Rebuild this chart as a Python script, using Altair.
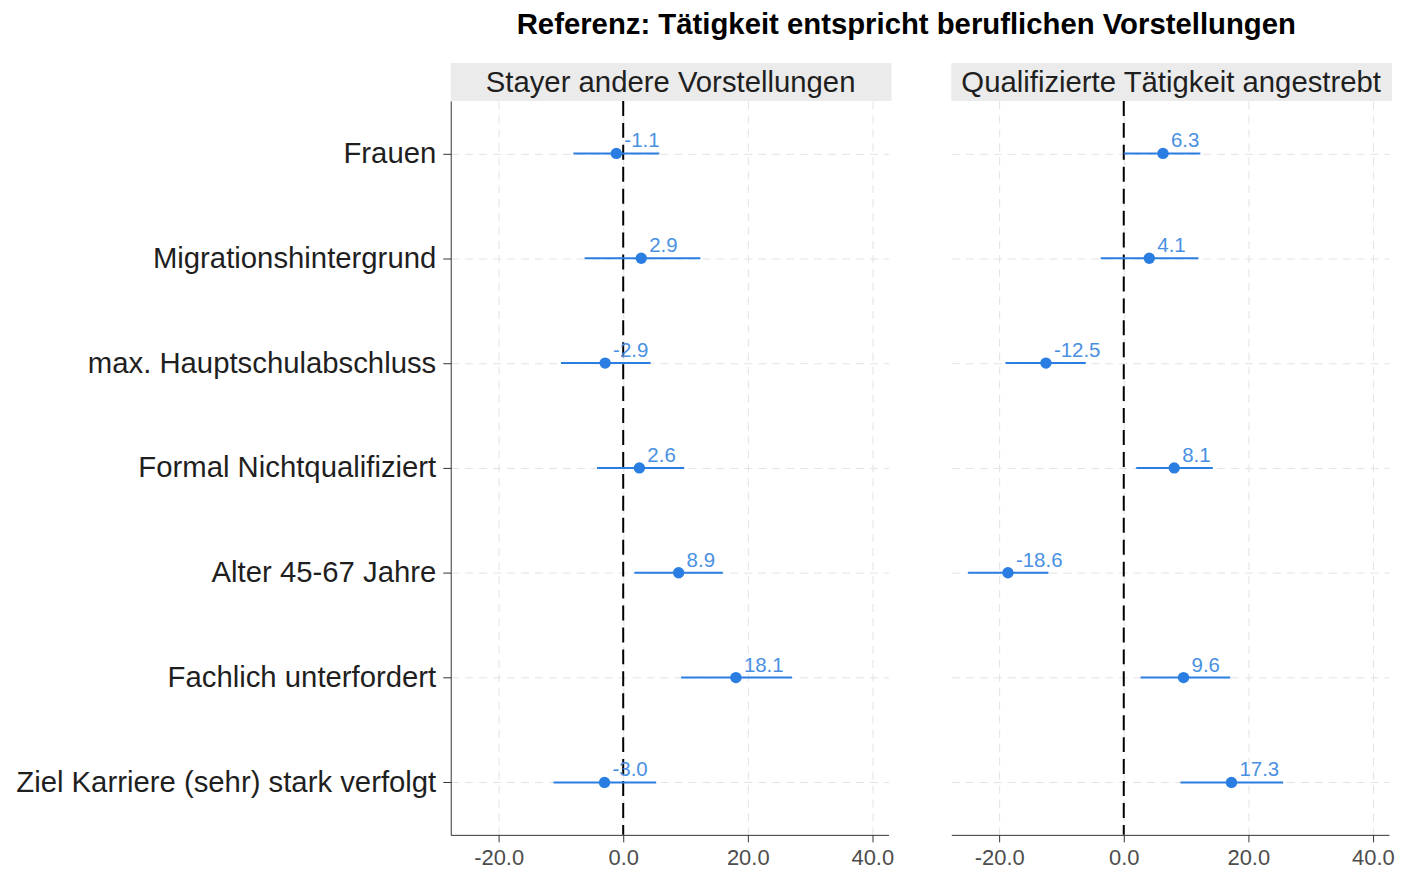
import altair as alt
import pandas as pd

variables = [
    "Frauen",
    "Migrationshintergrund",
    "max. Hauptschulabschluss",
    "Formal Nichtqualifiziert",
    "Alter 45-67 Jahre",
    "Fachlich unterfordert",
    "Ziel Karriere (sehr) stark verfolgt",
]
panels = ["Stayer andere Vorstellungen", "Qualifizierte Tätigkeit angestrebt"]

est_stayer = [-1.1, 2.9, -2.9, 2.6, 8.9, 18.1, -3.0]
lo_stayer = [-8.0, -6.2, -10.0, -4.2, 1.8, 9.3, -11.2]
hi_stayer = [5.8, 12.4, 4.4, 9.8, 16.0, 27.1, 5.3]

est_qual = [6.3, 4.1, -12.5, 8.1, -18.6, 9.6, 17.3]
lo_qual = [0.0, -3.7, -19.0, 2.0, -25.0, 2.7, 9.1]
hi_qual = [12.3, 12.0, -6.1, 14.3, -12.1, 17.1, 25.6]

x_ticks = [-20, 0, 20, 40]
x_domain = [-27.7, 42.6]

POINT_COLOR = "#2a7de1"
TEXT_COLOR = "#4a90e2"
W, H, STRIP = 439, 736, 38
BIG = 29.4


def make_df(est, lo, hi):
    return pd.DataFrame({
        "var": variables, "est": est, "lo": lo, "hi": hi,
        "label": [f"{v:.1f}" for v in est],
    })


def xscale():
    return alt.Scale(domain=x_domain, nice=False, zero=False)


def xaxis():
    return alt.Axis(
        title=None, values=x_ticks,
        labelExpr="replace(format(datum.value, '.1f'), '\u2212', '-')",
        labelFontSize=22, labelColor="#4d4d4d",
        labelFont="Liberation Sans", tickSize=7, tickColor="#333333", domainColor="#333333",
        grid=True, gridDash=[8, 6], gridColor="#e3e3e3", labelPadding=6,
    )


def panel(df, name, show_labels):
    base = alt.Chart(df)
    if show_labels:
        yaxis = alt.Axis(
            title=None, labelFontSize=BIG, labelColor="#1f1f1f", labelFont="Liberation Sans",
            tickSize=8, tickColor="#333333", domainColor="#333333", labelPadding=7,
            grid=True, gridDash=[8, 6], gridColor="#e3e3e3", labelLimit=0,
        )
    else:
        yaxis = alt.Axis(
            title=None, labels=False, ticks=False, domain=False, labelPadding=0,
            grid=True, gridDash=[8, 6], gridColor="#e3e3e3",
        )
    y = alt.Y("var:N", sort=variables, scale=alt.Scale(type="point", padding=0.5), axis=yaxis)
    x = alt.X("est:Q", scale=xscale(), axis=xaxis())

    strip_df = pd.DataFrame({"p": [name]})
    strip_bg = alt.Chart(strip_df).mark_rect(color="#ebebeb").encode(
        x=alt.value(0), x2=alt.value(W + 3), y=alt.value(-STRIP), y2=alt.value(0)
    )
    strip_txt = alt.Chart(strip_df).mark_text(
        fontSize=BIG, font="Liberation Sans", color="#1f1f1f", baseline="middle", align="center"
    ).encode(x=alt.value(W / 2 + 1), y=alt.value(-STRIP / 2 + 1), text="p:N")

    zero = alt.Chart(pd.DataFrame({"z": [0]})).mark_rule(
        color="black", strokeWidth=2, strokeDash=[15, 7]
    ).encode(x=alt.X("z:Q", scale=xscale(), axis=xaxis()))

    ci = base.mark_rule(color=POINT_COLOR, strokeWidth=2).encode(
        x=alt.X("lo:Q", scale=xscale(), axis=xaxis()), x2="hi:Q", y=y,
    )
    pts = base.mark_circle(color=POINT_COLOR, size=130, opacity=1).encode(x=x, y=y)
    txt = base.mark_text(
        align="left", baseline="middle", dx=8, dy=-12, fontSize=20.5, font="Liberation Sans",
        color=TEXT_COLOR,
    ).encode(x=x, y=y, text="label:N")

    return alt.layer(strip_bg, strip_txt, zero, ci, pts, txt).properties(width=W, height=H)


left = panel(make_df(est_stayer, lo_stayer, hi_stayer), panels[0], True)
right = panel(make_df(est_qual, lo_qual, hi_qual), panels[1], False)

chart = alt.hconcat(left, right, spacing=57).properties(
    title=alt.TitleParams(
        "Referenz: Tätigkeit entspricht beruflichen Vorstellungen",
        fontSize=BIG, font="Liberation Sans", fontWeight="bold", color="black",
        anchor="middle", dx=202, offset=23,
    ),
    padding={"left": 7, "top": 0, "right": 0, "bottom": 0},
).configure_view(stroke=None)

chart.save("out.html", embed_options={"renderer": "svg", "actions": False})
